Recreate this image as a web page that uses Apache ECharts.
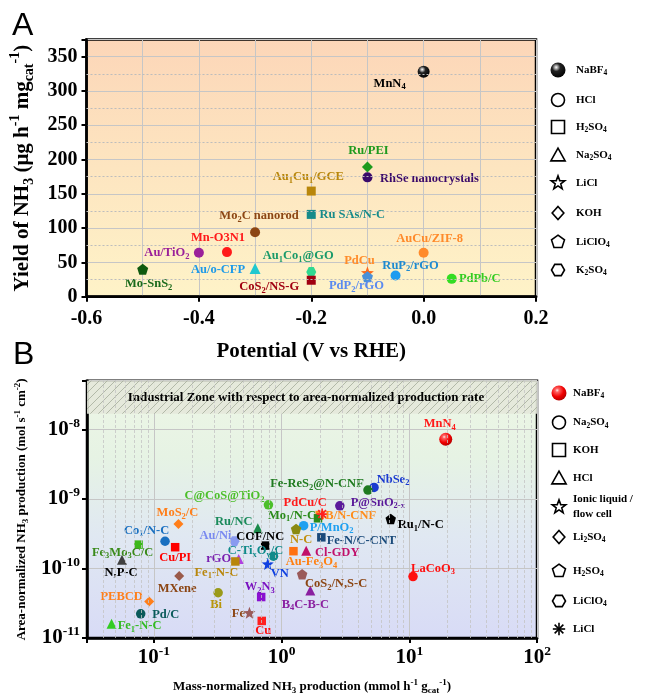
<!DOCTYPE html>
<html>
<head>
<meta charset="utf-8">
<script src="https://cdn.jsdelivr.net/npm/echarts@6.0.0/dist/echarts.min.js"></script>
<style>
html,body{margin:0;padding:0;background:#fff;}
#chart{width:645px;height:696px;}
</style>
</head>
<body>
<div id="chart"></div>
<script>
// ================= Panel A data =================
const aNames = ['MnN_{4}', 'Ru/PEI', 'RhSe nanocrystals', 'Au_{1}Cu_{1}/GCE', 'Ru SAs/N-C', 'Mo_{2}C nanorod',
  'Mn-O3N1', 'Au/TiO_{2}', 'Mo-SnS_{2}', 'Au/o-CFP', 'Au_{1}Co_{1}@GO', 'CoS_{2}/NS-G', 'PdCu',
  'PdP_{2}/rGO', 'RuP_{2}/rGO', 'AuCu/ZIF-8', 'PdPb/C'];
const aPotential = [0.0, -0.1, -0.1, -0.2, -0.2, -0.3, -0.35, -0.4, -0.5, -0.3, -0.2, -0.2, -0.1, -0.1, -0.05, 0.0, 0.05];
const aYield = [328, 189, 174, 154, 120, 94, 65, 64, 40, 41, 36, 24, 35, 29, 31, 64, 26];
const aElectrolyte = ['NaBF4', 'KOH', 'HCl', 'H2SO4', 'H2SO4', 'HCl', 'HCl', 'HCl', 'LiClO4', 'Na2SO4',
  'K2SO4', 'H2SO4', 'LiCl', 'LiClO4', 'HCl', 'HCl', 'HCl'];
const aLegendKeys = ['NaBF4', 'HCl', 'H2SO4', 'Na2SO4', 'LiCl', 'KOH', 'LiClO4', 'K2SO4'];
const aLegendLabels = ['NaBF_{4}', 'HCl', 'H_{2}SO_{4}', 'Na_{2}SO_{4}', 'LiCl', 'KOH', 'LiClO_{4}', 'K_{2}SO_{4}'];
const aXRange = [-0.6, 0.2], aXStep = 0.2;
const aYRange = [0, 375], aYStep = 50;
const aYMinorGrid = [25, 75, 125, 175, 225, 275, 325];

// ================= Panel B data =================
const bNames = ['MnN_{4}', 'NbSe_{2}', 'Fe-ReS_{2}@N-CNF', 'P@SnO_{2-x}', 'B/N-CNF', 'Mo_{1}/N-C', 'PdCu/C',
  'Ru_{1}/N-C', 'P/MnO_{2}', 'N-C', 'Fe-N/C-CNT', 'Au-Fe_{3}O_{4}', 'Cl-GDY', 'LaCoO_{3}', 'CoS_{2}/N,S-C',
  'B_{4}C-B-C', 'VN', 'C-Ti_{x}O_{y}/C', 'COF/NC', 'Ru/NC', 'C@CoS@TiO_{2}', 'Au/Ni', 'rGO', 'Fe_{1}-N-C',
  'MoS_{2}/C', 'Co_{1}/N-C', 'Cu/PI', 'Fe_{3}Mo_{3}C/C', 'N,P-C', 'MXene', 'PEBCD', 'Pd/C', 'Fe_{1}-N-C',
  'Bi', 'W_{2}N_{3}', 'Fe', 'Cu'];
const bMass = [19.3, 5.3, 4.75, 2.86, 1.99, 1.93, 2.08, 7.16, 1.49, 1.30, 2.05, 1.24, 1.56, 10.7, 1.45,
  1.68, 0.78, 0.865, 0.745, 0.652, 0.79, 0.428, 0.462, 0.435, 0.156, 0.1225, 0.147, 0.076, 0.0564, 0.158,
  0.092, 0.079, 0.0467, 0.319, 0.693, 0.561, 0.70];
const bArea = [7.2e-9, 1.46e-9, 1.34e-9, 7.96e-10, 5.86e-10, 5.26e-10, 6.05e-10, 5.14e-10, 4.12e-10, 3.69e-10,
  2.8e-10, 1.77e-10, 1.8e-10, 7.65e-11, 8.28e-11, 4.83e-11, 1.16e-10, 1.5e-10, 2.13e-10, 3.78e-10,
  8.22e-10, 2.46e-10, 1.37e-10, 1.26e-10, 4.35e-10, 2.46e-10, 2.02e-10, 2.2e-10, 1.33e-10, 7.76e-11,
  3.36e-11, 2.23e-11, 1.6e-11, 4.47e-11, 3.88e-11, 2.31e-11, 1.76e-11];
const bElectrolyte = ['NaBF4', 'Na2SO4', 'Na2SO4', 'Na2SO4', 'KOH', 'KOH', 'LiCl', 'H2SO4', 'Na2SO4', 'H2SO4',
  'KOH', 'KOH', 'HCl', 'Na2SO4', 'H2SO4', 'HCl', 'IL', 'Na2SO4', 'KOH', 'HCl',
  'Na2SO4', 'LiClO4', 'HCl', 'KOH', 'Li2SO4', 'Na2SO4', 'KOH', 'KOH', 'HCl', 'Li2SO4',
  'Li2SO4', 'Na2SO4', 'HCl', 'Na2SO4', 'KOH', 'IL', 'KOH'];
const bLegendKeys = ['NaBF4', 'Na2SO4', 'KOH', 'HCl', 'IL', 'Li2SO4', 'H2SO4', 'LiClO4', 'LiCl'];
const bLegendLabels = ['NaBF_{4}', 'Na_{2}SO_{4}', 'KOH', 'HCl', 'Ionic liquid /\nflow cell', 'Li_{2}SO_{4}',
  'H_{2}SO_{4}', 'LiClO_{4}', 'LiCl'];
const bXRange = [0.03, 100];
const bYRange = [1e-11, 5e-8];
const industrialThreshold = 1.67e-8;
const industrialText = 'Industrial Zone with respect to area-normalized production rate';

// ================= Styles =================
const SERIF = '"Liberation Serif","Times New Roman",serif';
const SANS = '"Liberation Sans",Arial,sans-serif';

const aShapeOf = {NaBF4: 'sphere', HCl: 'circle', H2SO4: 'rect', Na2SO4: 'triangle', LiCl: 'star',
  KOH: 'diamond', LiClO4: 'pentagon', K2SO4: 'hexagon'};
const bShapeOf = {NaBF4: 'sphere', Na2SO4: 'circle', KOH: 'rect', HCl: 'triangle', IL: 'star',
  Li2SO4: 'diamond', H2SO4: 'pentagon', LiClO4: 'hexagon', LiCl: 'asterisk'};

const aColors = ['#000', '#1e9a1e', '#3a0a6a', '#b8860b', '#168a8a', '#8b4513', '#ff1a1a', '#9a209a', '#0f5a0f',
  '#20c8d0', '#30d890', '#a00010', '#ff6a1a', '#4a90d8', '#1e9bf0', '#ff8a2a', '#33dd22'];
const aLabelColors = ['#000', '#1e9a1e', '#3a0a6a', '#b8860b', '#168a8a', '#8b4513', '#ff1a1a', '#9a209a', '#1a6a1a',
  '#1e9ae8', '#1a9a6a', '#a00010', '#ff8c2a', '#5a8af0', '#1e8ad0', '#ff8a2a', '#33cc22'];
const aOffsets = [[-34, 12], [1, -16], [62, 1], [-3, -14], [41, 0], [4, -16], [-9, -14], [-32, 0], [6, 15],
  [-37, 1], [-13, -16], [-42, 7], [-8, -12], [-11, 9], [15, -10], [6, -14], [28, 0]];

const bColors = ['#f00', '#1a3ad0', '#1f7a1f', '#5a1a9a', '#ff8c1a', '#2a8a1a', '#ff2020', '#000', '#1ea0f0',
  '#8a8a10', '#1a4a7a', '#ff7010', '#c0106a', '#ff1010', '#9a5a5a', '#8a20a0', '#1040e0', '#108a8a', '#000',
  '#1a8a4a', '#4cbf2a', '#8a9af0', '#b040e0', '#b8860b', '#ff7f1a', '#1a70c0', '#ff0000', '#3cb81a', '#404040',
  '#9a5a4a', '#ff7f1a', '#0a5a5a', '#33cc22', '#9a9a1a', '#8a10d0', '#9a5a5a', '#ff2020'];
const bLabelColors = ['#ff1a1a', '#1a3ad0', '#1f7a1f', '#5a1a9a', '#ff8c1a', '#2a8a1a', '#ff1a1a', '#000', '#1ea0f0',
  '#c09010', '#1a4a7a', '#ff8010', '#c0106a', '#ff1010', '#8b4513', '#8a20a0', '#1040e0', '#108a8a', '#000',
  '#1a8a5a', '#4cbf2a', '#7a8af0', '#7a20b0', '#b8860b', '#ff7f1a', '#1a70c0', '#ff0000', '#3a8a1a', '#000',
  '#8b4513', '#ff7f1a', '#0a5a5a', '#33bb22', '#b8960b', '#7a10c0', '#8b4513', '#ff1010'];
const bOffsets = [[-6, -15], [19, -8], [-51, -6], [38, -3], [31, 1], [-26, -3], [-17, -11], [30, 6], [28, 2],
  [5, 11], [40, 3], [18, 11], [31, 2], [20, -8], [34, 10], [-5, 14], [12, 10], [-18, -5], [-5, -8.5],
  [-24, -7], [-44, -9], [-19, -5], [-20, 0], [-19, 11], [-1, -11], [-18.5, -10.6], [0, 11], [-16, 8],
  [-1, 13], [-2, 12.7], [-27.5, -4.4], [25, 1], [28, 2], [-2, 12], [-1.4, -10], [-11, 1], [1.5, 9.4]];

// ================= helpers =================
function toRich(str, p) {
  let out = '', buf = '', i = 0;
  const flush = () => { if (buf) { out += '{' + p + 'n|' + buf + '}'; buf = ''; } };
  while (i < str.length) {
    const c = str[i];
    if ((c === '_' || c === '^') && str[i + 1] === '{') {
      const end = str.indexOf('}', i);
      flush();
      out += '{' + p + (c === '_' ? 's' : 'p') + '|' + str.slice(i + 2, end) + '}';
      i = end + 1;
    } else if (c === '\n') { flush(); out += '\n'; i++; }
    else { buf += c; i++; }
  }
  flush();
  return out;
}
function richSet(p, main, small, mainLH, smallLH, family) {
  const f = family || SERIF;
  const o = {};
  o[p + 'n'] = {fontFamily: f, fontWeight: 'bold', fontSize: main, lineHeight: mainLH};
  o[p + 's'] = {fontFamily: f, fontWeight: 'bold', fontSize: small, lineHeight: smallLH, verticalAlign: 'bottom'};
  o[p + 'p'] = {fontFamily: f, fontWeight: 'bold', fontSize: small, lineHeight: smallLH, verticalAlign: 'top'};
  return o;
}
const LABEL_RICH = richSet('l', 12.5, 8.5, 16, 8);
const TITLE_A_RICH = richSet('t', 21, 14, 28, 10);
const TITLE_B_RICH = richSet('u', 13, 9, 17, 8);
const LEGEND_RICH = richSet('g', 11, 7.5, 15, 8);
const TICK_RICH = {
  tn: {fontFamily: SERIF, fontWeight: 'bold', fontSize: 21, lineHeight: 26},
  tp: {fontFamily: SERIF, fontWeight: 'bold', fontSize: 13.5, lineHeight: 8, verticalAlign: 'top'}
};

function polyPath(pts) { return 'M' + pts.map(p => p[0].toFixed(2) + ',' + p[1].toFixed(2)).join(' L') + ' Z'; }
function regular(n, rot, r) { return Array.from({length: n}, (_, i) => { const a = rot + i * 2 * Math.PI / n; return [r * Math.cos(a), r * Math.sin(a)]; }); }
function starPts(R, r) { return Array.from({length: 10}, (_, i) => { const a = -Math.PI / 2 + i * Math.PI / 5; const rr = i % 2 ? r : R; return [rr * Math.cos(a), rr * Math.sin(a)]; }); }
function barPath(deg, L, W) {
  const a = deg * Math.PI / 180, c = Math.cos(a), s = Math.sin(a);
  return polyPath([[L * c - W * s, L * s + W * c], [L * c + W * s, L * s - W * c], [-L * c + W * s, -L * s - W * c], [-L * c - W * s, -L * s + W * c]]);
}
const SYM = {
  circle: 'circle', sphere: 'circle', rect: 'rect', triangle: 'triangle', diamond: 'diamond',
  star: 'path://' + polyPath(starPts(10, 4.2)),
  pentagon: 'path://' + polyPath(regular(5, -Math.PI / 2, 10)),
  hexagon: 'path://' + polyPath(regular(6, 0, 10)),
  asterisk: 'path://' + [0, 45, 90, 135].map(a => barPath(a, 10, 1.5)).join(' ')
};
const SIZE_A = {circle: 10, sphere: 12, rect: 9, triangle: 11, diamond: 11, star: 13, pentagon: 11, hexagon: 10, asterisk: 11};
const SIZE_B = {circle: 9.5, sphere: 13, rect: 8.5, triangle: 10, diamond: 10, star: 12, pentagon: 10.5, hexagon: 10, asterisk: 11};

function sphereGrad(red) {
  return {type: 'radial', x: 0.38, y: 0.32, r: 0.72, colorStops: red ?
    [{offset: 0, color: '#ffe8e8'}, {offset: 0.18, color: '#ff6060'}, {offset: 0.6, color: '#f00000'}, {offset: 1, color: '#b00000'}] :
    [{offset: 0, color: '#ffffff'}, {offset: 0.14, color: '#b0b0b0'}, {offset: 0.38, color: '#222'}, {offset: 1, color: '#000'}]};
}

function buildData(xs, ys, elec, shapeOf, sizes, colors, labelColors, offsets, red) {
  return xs.map((x, i) => {
    const shape = shapeOf[elec[i]];
    return {
      value: [x, ys[i]],
      symbol: SYM[shape],
      symbolSize: sizes[shape],
      itemStyle: {color: shape === 'sphere' ? sphereGrad(red) : colors[i], opacity: 1},
      label: {color: labelColors[i], offset: offsets[i]}
    };
  });
}

function hatchPattern() {
  const c = document.createElement('canvas'); c.width = 8; c.height = 8;
  const g = c.getContext('2d');
  g.fillStyle = 'rgba(228,232,218,0.9)'; g.fillRect(0, 0, 8, 8);
  g.strokeStyle = '#a4ac9a'; g.lineWidth = 0.8;
  g.beginPath(); g.moveTo(0, 8); g.lineTo(8, 0); g.moveTo(-1, 1); g.lineTo(1, -1); g.moveTo(7, 9); g.lineTo(9, 7); g.stroke();
  return c;
}

function legendShape(type, cx, cy, r, red) {
  const st = {fill: '#fff', stroke: '#000', lineWidth: 1.6};
  const poly = pts => ({type: 'polygon', shape: {points: pts.map(p => [cx + p[0], cy + p[1]])}, style: st});
  switch (type) {
    case 'sphere': return {type: 'circle', shape: {cx, cy, r: r + 1}, style: {fill: sphereGrad(red)}};
    case 'circle': return {type: 'circle', shape: {cx, cy, r}, style: st};
    case 'rect': return {type: 'rect', shape: {x: cx - r, y: cy - r, width: 2 * r, height: 2 * r}, style: st};
    case 'triangle': return poly([[0, -r * 1.05], [r * 1.1, r * 0.9], [-r * 1.1, r * 0.9]]);
    case 'diamond': return poly([[0, -r], [r * 0.9, 0], [0, r], [-r * 0.9, 0]]);
    case 'pentagon': return poly(regular(5, -Math.PI / 2, r * 1.05));
    case 'hexagon': return poly(regular(6, 0, r));
    case 'star': return poly(starPts(r * 1.1, r * 0.45));
    case 'asterisk': return {type: 'group', children: [0, 45, 90, 135].map(d => {
      const a = d * Math.PI / 180, L = r * 0.95;
      return {type: 'line', shape: {x1: cx - L * Math.cos(a), y1: cy - L * Math.sin(a), x2: cx + L * Math.cos(a), y2: cy + L * Math.sin(a)}, style: {stroke: '#000', lineWidth: 1.6}};
    })};
  }
}
function legendText(txt, x, y) {
  return {type: 'text', x: x, y: y, style: {text: toRich(txt, 'g'), rich: LEGEND_RICH, fill: '#000',
    align: 'left', verticalAlign: 'middle', textAlign: 'left', textVerticalAlign: 'middle'}};
}

const aLegendY = [70, 100, 127, 155, 183, 213, 242, 270];
const bLegendY = [393, 422.5, 450, 478, 507, 537, 571, 601, 629];
const graphics = [];
aLegendKeys.forEach((k, i) => {
  graphics.push(legendShape(aShapeOf[k], 558, aLegendY[i], 6.5, false));
  graphics.push(legendText(aLegendLabels[i], 576, aLegendY[i]));
});
bLegendKeys.forEach((k, i) => {
  graphics.push(legendShape(bShapeOf[k], 559, bLegendY[i], 6.5, true));
  graphics.push(legendText(bLegendLabels[i], 573, bLegendY[i]));
});
graphics.push({type: 'text', x: 12, y: 26, style: {text: 'A', font: '32px ' + SANS, fill: '#000', align: 'left', verticalAlign: 'middle', textAlign: 'left', textVerticalAlign: 'middle'}});
graphics.push({type: 'text', x: 13, y: 355, style: {text: 'B', font: '32px ' + SANS, fill: '#000', align: 'left', verticalAlign: 'middle', textAlign: 'left', textVerticalAlign: 'middle'}});

// minor grid for B (log decades 2..9)
const bXMinor = [], bYMinor = [];
[0.01, 0.1, 1, 10].forEach(d => { for (let k = 2; k <= 9; k++) { const v = k * d; if (v > bXRange[0] * 1.001 && v < bXRange[1]) bXMinor.push(+v.toPrecision(3)); } });
[1e-11, 1e-10, 1e-9, 1e-8].forEach(d => { for (let k = 2; k <= 9; k++) { const v = k * d; if (v < bYRange[1]) bYMinor.push(+v.toPrecision(3)); } });

const GRID_GRAY = '#c6c6c6';
const axisCommon = {
  axisLine: {show: true, onZero: false, lineStyle: {color: '#000', width: 2.5}},
  axisTick: {show: true, length: 5, lineStyle: {color: '#000', width: 2}},
  splitLine: {show: true, lineStyle: {color: GRID_GRAY, width: 1}}
};
function decadeLabel(v) {
  const l = Math.log10(v), e = Math.round(l);
  if (Math.abs(l - e) > 1e-6) return '';
  return '{tn|10}{tp|' + e + '}';
}

const option = {
  animation: false,
  graphic: graphics,
  grid: [
    {left: 86.5, right: 109, top: 39.5, bottom: 399.3, show: true, borderColor: '#000', borderWidth: 2.5,
      backgroundColor: new echarts.graphic.LinearGradient(0, 0, 0, 1, [{offset: 0, color: '#fcd6b8'}, {offset: 0.5, color: '#fde5c0'}, {offset: 1, color: '#fef3c8'}])},
    {left: 87, right: 108, top: 380.7, bottom: 56.7, show: true, borderColor: '#000', borderWidth: 2.5,
      backgroundColor: new echarts.graphic.LinearGradient(0, 0, 0, 1, [{offset: 0, color: '#eef6e6'}, {offset: 0.3, color: '#e6f3e4'}, {offset: 0.6, color: '#e0e8f2'}, {offset: 1, color: '#d8dbf6'}])}
  ],
  xAxis: [
    Object.assign({}, axisCommon, {
      gridIndex: 0, type: 'value', min: aXRange[0], max: aXRange[1], interval: aXStep,
      name: 'Potential (V vs RHE)', nameLocation: 'middle', nameGap: 44,
      nameTextStyle: {fontFamily: SERIF, fontWeight: 'bold', fontSize: 21, color: '#000'},
      axisLabel: {margin: 12, color: '#000', fontFamily: SERIF, fontWeight: 'bold', fontSize: 20,
        formatter: v => (Math.abs(v) < 1e-9 ? '0.0' : v.toFixed(1))},
      minorTick: {show: false, splitNumber: 2},
      minorSplitLine: {show: true, lineStyle: {color: GRID_GRAY, width: 1}}
    }),
    Object.assign({}, axisCommon, {
      gridIndex: 1, type: 'log', logBase: 10, min: bXRange[0], max: bXRange[1],
      name: toRich('Mass-normalized NH_{3} production (mmol h^{-1} g_{cat}^{-1})', 'u'), nameLocation: 'middle', nameGap: 40,
      nameTextStyle: {color: '#000', rich: TITLE_B_RICH},
      axisLabel: {margin: 7, color: '#000', formatter: decadeLabel, rich: TICK_RICH}
    })
  ],
  yAxis: [
    Object.assign({}, axisCommon, {
      gridIndex: 0, type: 'value', min: aYRange[0], max: aYRange[1], interval: aYStep,
      name: toRich('Yield of NH_{3} (μg h^{-1} mg_{cat}^{-1})', 't'), nameLocation: 'middle', nameGap: 44, nameRotate: 90,
      nameTextStyle: {color: '#000', rich: TITLE_A_RICH},
      axisLabel: {margin: 9, color: '#000', fontFamily: SERIF, fontWeight: 'bold', fontSize: 20,
        formatter: v => (v % aYStep === 0 ? String(v) : '')}
    }),
    Object.assign({}, axisCommon, {
      gridIndex: 1, type: 'log', logBase: 10, min: bYRange[0], max: bYRange[1],
      name: toRich('Area-normalized NH_{3} production (mol s^{-1} cm^{-2})', 'u'), nameLocation: 'middle', nameGap: 57, nameRotate: 90,
      nameTextStyle: {color: '#000', rich: TITLE_B_RICH},
      axisLabel: {margin: 7, color: '#000', formatter: decadeLabel, rich: TICK_RICH}
    })
  ],
  series: [
    {
      type: 'line', xAxisIndex: 0, yAxisIndex: 0, data: [], silent: true, z: 1,
      markLine: {silent: true, symbol: 'none', label: {show: false}, animation: false,
        lineStyle: {color: '#bdbdbd', width: 1, type: [2, 2]},
        data: aYMinorGrid.map(v => ({yAxis: v}))}
    },
    {
      type: 'scatter', xAxisIndex: 0, yAxisIndex: 0, silent: true, z: 3,
      itemStyle: {opacity: 1},
      data: buildData(aPotential, aYield, aElectrolyte, aShapeOf, SIZE_A, aColors, aLabelColors, aOffsets, false),
      label: {show: true, position: 'inside', textBorderWidth: 0, rich: LABEL_RICH,
        formatter: p => toRich(aNames[p.dataIndex], 'l')},
      emphasis: {disabled: true}
    },
    {
      type: 'line', xAxisIndex: 1, yAxisIndex: 1, data: [], silent: true, z: 1,
      markLine: {silent: true, symbol: 'none', label: {show: false}, animation: false,
        lineStyle: {color: '#c4c4c4', width: 0.8, type: [3, 2]},
        data: bXMinor.map(v => ({xAxis: v})).concat(bYMinor.map(v => ({yAxis: v})))}
    },
    {
      type: 'line', xAxisIndex: 1, yAxisIndex: 1, data: [], silent: true, z: 2,
      markArea: {silent: true,
        itemStyle: {color: {image: hatchPattern(), repeat: 'repeat'}},
        label: {show: true, position: 'inside', color: '#000', fontFamily: SERIF, fontWeight: 'bold', fontSize: 13,
          offset: [-6, 0], formatter: industrialText},
        data: [[{yAxis: industrialThreshold}, {yAxis: bYRange[1]}]]},
      markLine: {silent: true, symbol: 'none', label: {show: false}, animation: false,
        lineStyle: {color: '#1a2080', width: 2.5, type: 'dotted'},
        data: [{yAxis: industrialThreshold}]}
    },
    {
      type: 'scatter', xAxisIndex: 1, yAxisIndex: 1, silent: true, z: 3,
      itemStyle: {opacity: 1},
      data: buildData(bMass, bArea, bElectrolyte, bShapeOf, SIZE_B, bColors, bLabelColors, bOffsets, true),
      label: {show: true, position: 'inside', textBorderWidth: 0, rich: LABEL_RICH,
        formatter: p => toRich(bNames[p.dataIndex], 'l')},
      emphasis: {disabled: true}
    }
  ]
};

const chart = echarts.init(document.getElementById('chart'), null, {renderer: 'canvas', width: 645, height: 696});
chart.setOption(option);
</script>
</body>
</html>
